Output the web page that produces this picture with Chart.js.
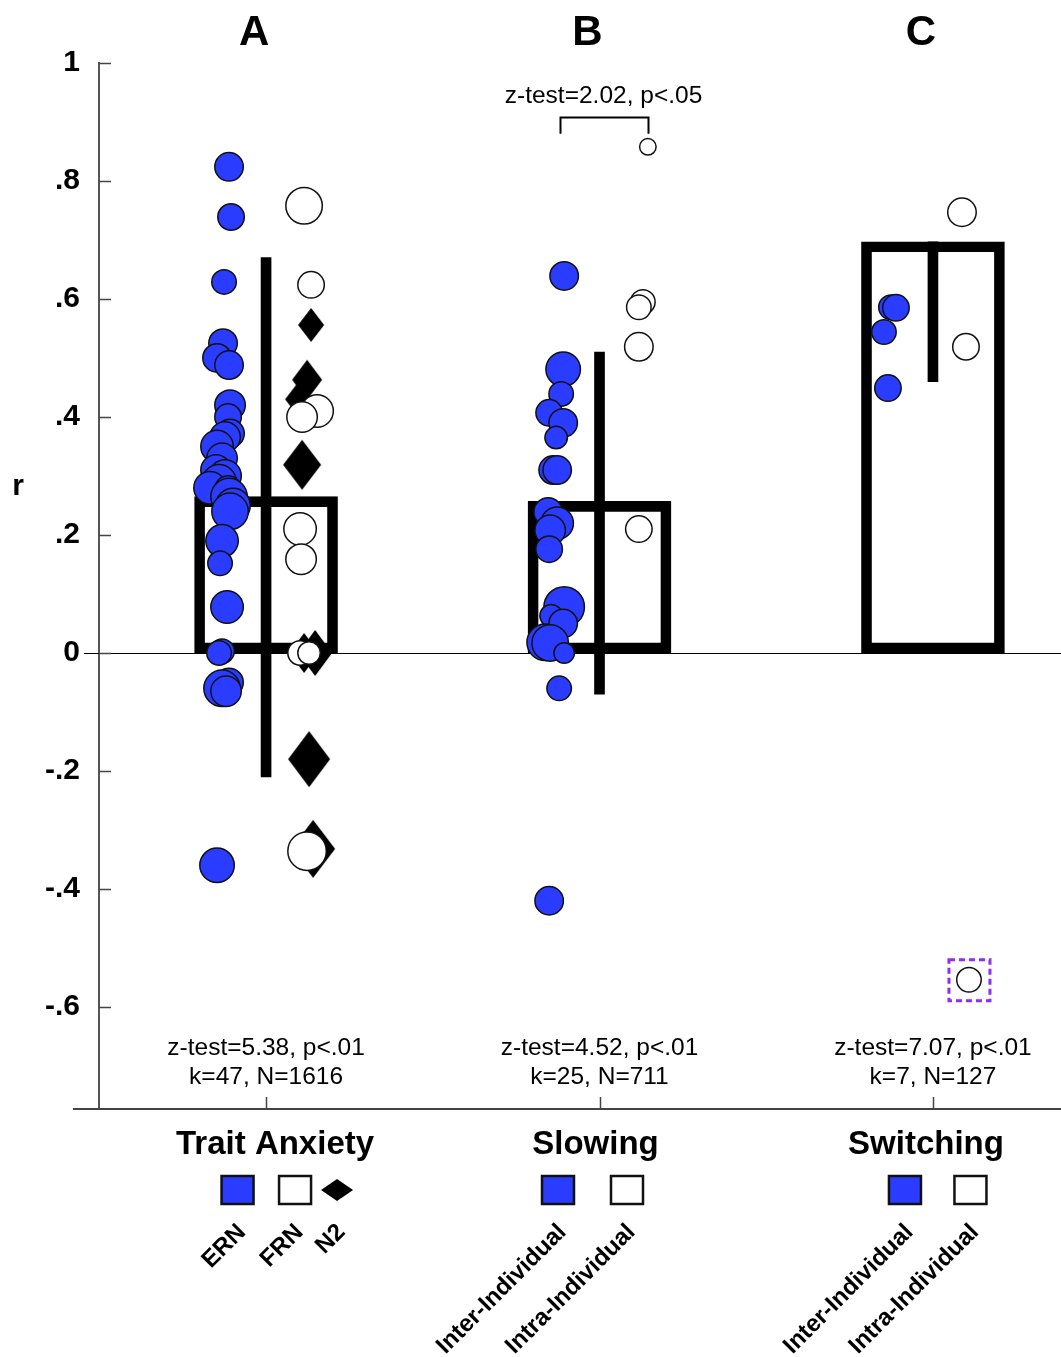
<!DOCTYPE html>
<html>
<head>
<meta charset="utf-8">
<script src="https://cdn.jsdelivr.net/npm/chart.js@4.4.1/dist/chart.umd.min.js"></script>
<style>
  html, body { margin: 0; padding: 0; background: #fff; }
  #wrap { width: 1061px; height: 1357px; }
</style>
</head>
<body>
<div id="wrap"><canvas id="grafica" width="1061" height="1357"></canvas></div>
<script>
// categories (x positions 1..3) and summary values
var categories = [1, 2, 3];
var panelLetters = ['A', 'B', 'C'];
var groupNames = ['Trait Anxiety', 'Slowing', 'Switching'];
var legendNames = [['ERN', 'FRN', 'N2'], ['Inter-Individual', 'Intra-Individual'], ['Inter-Individual', 'Intra-Individual']];
var means = [0.265, 0.257, 0.697];
var errLow = [-0.21, -0.07, 0.46];
var errHigh = [0.67, 0.51, 0.697];
var zTests = ['z-test=5.38, p<.01', 'z-test=4.52, p<.01', 'z-test=7.07, p<.01'];
var kN = ['k=47, N=1616', 'k=25, N=711', 'k=7, N=127'];
var slowingCompare = 'z-test=2.02, p<.05';
var yTicks = [1, 0.8, 0.6, 0.4, 0.2, 0, -0.2, -0.4, -0.6];

// Trait anxiety: ERN
var ernR = [0.824, 0.739, 0.629, 0.525, 0.50, 0.488, 0.42, 0.40, 0.372, 0.366, 0.35, 0.33, 0.31, 0.30, 0.29, 0.28, 0.278, 0.265, 0.25, 0.24, 0.19, 0.152, 0.078, 0.003, 0.0, -0.05, -0.06, -0.065, -0.36];
var ernJit = [-0.111, -0.105, -0.126, -0.129, -0.147, -0.111, -0.108, -0.114, -0.108, -0.123, -0.147, -0.132, -0.150, -0.123, -0.141, -0.168, -0.114, -0.111, -0.099, -0.108, -0.132, -0.138, -0.117, -0.132, -0.141, -0.111, -0.132, -0.120, -0.147];
var ernSize = [15, 14, 13, 15, 15, 15, 16, 14, 15, 16, 17, 16, 16, 17, 18, 17, 14, 19, 18, 19, 17, 13, 17, 13, 13, 15, 19, 16, 18];
// Trait anxiety: FRN
var frnR = [0.758, 0.624, 0.41, 0.40, 0.21, 0.159, 0.0, 0.0, -0.336];
var frnJit = [0.114, 0.135, 0.153, 0.108, 0.102, 0.105, 0.102, 0.129, 0.123];
var frnSize = [19, 14, 17, 16, 17, 16, 13, 12, 20];
// Trait anxiety: N2
var n2R = [0.556, 0.463, 0.43, 0.319, 0.0, 0.0, -0.18, -0.332];
var n2Jit = [0.135, 0.123, 0.096, 0.108, 0.114, 0.147, 0.129, 0.141];
var n2Size = [17, 20, 17, 25, 20, 23, 28, 29];
// Slowing
var slowInterR = [0.639, 0.481, 0.439, 0.407, 0.39, 0.365, 0.31, 0.31, 0.239, 0.22, 0.208, 0.176, 0.078, 0.063, 0.05, 0.018, 0.017, 0.0, -0.06, -0.42];
var slowInterJit = [-0.106, -0.109, -0.115, -0.151, -0.109, -0.130, -0.139, -0.127, -0.154, -0.127, -0.148, -0.151, -0.106, -0.145, -0.109, -0.163, -0.148, -0.106, -0.121, -0.151];
var slowInterSize = [15, 18, 13, 14, 15, 12, 15, 15, 15, 17, 16, 14, 21, 12, 15, 19, 19, 11, 13, 15];
var slowIntraR = [0.858, 0.595, 0.586, 0.519, 0.21];
var slowIntraJit = [0.145, 0.130, 0.118, 0.118, 0.118];
var slowIntraSize = [9, 13, 13, 15, 14];
// Switching
var switchInterR = [0.586, 0.585, 0.544, 0.449];
var switchInterJit = [-0.126, -0.111, -0.147, -0.135];
var switchInterSize = [13, 14, 13, 14];
var switchIntraR = [0.747, 0.519, -0.554];
var switchIntraJit = [0.087, 0.099, 0.108];
var switchIntraSize = [15, 14, 13];

var BLUE = '#2a3cff';
var FONT = "'Liberation Sans', Arial, Helvetica, sans-serif";

function points(cat, vals, jit) {
    return vals.map(function(v, i) { return { x: cat + jit[i], y: v }; });
}

function circleSet(label, cat, vals, jit, sizes, color, order) {
    return {
        type: 'scatter',
        label: label,
        data: points(cat, vals, jit),
        backgroundColor: color,
        borderColor: '#111',
        borderWidth: 1.5,
        pointRadius: sizes.map(function(r) { return r - 0.75; }),
        order: order
    };
}

function diamondCanvas(h) {
    var w = Math.round(h * 0.76);
    var c = document.createElement('canvas');
    c.width = 2 * w + 2;
    c.height = 2 * h + 2;
    var g = c.getContext('2d');
    g.fillStyle = '#000';
    g.beginPath();
    g.moveTo(w + 1, 1);
    g.lineTo(2 * w + 1, h + 1);
    g.lineTo(w + 1, 2 * h + 1);
    g.lineTo(1, h + 1);
    g.closePath();
    g.fill();
    return c;
}
var diamonds = n2Size.map(diamondCanvas);

function yLabel(v) {
    if (v === 0) return '0';
    if (v === 1) return '1';
    return (v < 0 ? '-' : '') + Math.abs(v).toFixed(1).replace(/^0/, '');
}

var extras = {
    id: 'extras',
    beforeDatasetsDraw: function(chart) {
        var ctx = chart.ctx, y = chart.scales.y, area = chart.chartArea;
        var y0 = Math.round(y.getPixelForValue(0)) + 0.5;
        ctx.save();
        ctx.strokeStyle = '#000';
        ctx.lineWidth = 1.2;
        ctx.beginPath();
        ctx.moveTo(84, y0);
        ctx.lineTo(area.right, y0);
        ctx.stroke();
        // tick marks point inward
        ctx.strokeStyle = '#444';
        ctx.lineWidth = 1.5;
        yTicks.forEach(function(v) {
            var py = Math.round(y.getPixelForValue(v)) + 0.5;
            ctx.beginPath();
            ctx.moveTo(area.left, py);
            ctx.lineTo(area.left + 12, py);
            ctx.stroke();
        });
        ctx.restore();
    },
    afterDraw: function(chart) {
        var ctx = chart.ctx, x = chart.scales.x, y = chart.scales.y, area = chart.chartArea;
        ctx.save();

        // bottom axis
        ctx.strokeStyle = '#444';
        ctx.lineWidth = 2;
        ctx.beginPath();
        ctx.moveTo(73, area.bottom);
        ctx.lineTo(area.right, area.bottom);
        ctx.stroke();
        ctx.lineWidth = 1.5;
        categories.forEach(function(c) {
            var px = Math.round(x.getPixelForValue(c)) + 0.5;
            ctx.beginPath();
            ctx.moveTo(px, area.bottom - 12);
            ctx.lineTo(px, area.bottom);
            ctx.stroke();
        });

        ctx.fillStyle = '#000';
        ctx.textAlign = 'center';
        ctx.textBaseline = 'alphabetic';

        // panel letters
        ctx.font = 'bold 42px ' + FONT;
        categories.forEach(function(c, i) {
            ctx.fillText(panelLetters[i], x.getPixelForValue(c) - 12, 45);
        });

        // axis title
        ctx.font = 'bold 30px ' + FONT;
        ctx.fillText('r', 18, 495);

        // stats under each panel
        ctx.font = '24.5px ' + FONT;
        categories.forEach(function(c, i) {
            var px = x.getPixelForValue(c);
            ctx.fillText(zTests[i], px, area.bottom - 54);
            ctx.fillText(kN[i], px, area.bottom - 25);
        });

        // bracket over slowing
        var bx = x.getPixelForValue(categories[1]);
        var bTop = Math.round(y.getPixelForValue(0.908)) + 0.5;
        var bTip = y.getPixelForValue(0.88);
        ctx.strokeStyle = '#000';
        ctx.lineWidth = 2;
        ctx.beginPath();
        ctx.moveTo(bx - 39, bTip);
        ctx.lineTo(bx - 39, bTop);
        ctx.lineTo(bx + 49, bTop);
        ctx.lineTo(bx + 49, bTip);
        ctx.stroke();
        ctx.fillText(slowingCompare, bx + 4, bTop - 15);

        // dashed box around the outlying switching point
        var meta = chart.getDatasetMeta(7);
        var pt = meta.data[2];
        ctx.strokeStyle = '#8f2cf5';
        ctx.lineWidth = 3;
        ctx.setLineDash([6, 4]);
        ctx.strokeRect(pt.x - 20, pt.y - 20, 41, 41);
        ctx.setLineDash([]);

        // legend block
        var titleDx = [9, -4, -7];
        var itemDx = [[-28.5, 29, 71], [-41.5, 27.5], [-28, 37.5]];
        var itemKind = [['blue', 'white', 'diamond'], ['blue', 'white'], ['blue', 'white']];
        categories.forEach(function(c, i) {
            var px = x.getPixelForValue(c);
            ctx.fillStyle = '#000';
            ctx.font = 'bold 33px ' + FONT;
            ctx.textAlign = 'center';
            ctx.textBaseline = 'alphabetic';
            ctx.fillText(groupNames[i], px + titleDx[i], area.bottom + 45);

            itemDx[i].forEach(function(dx, j) {
                var cx = px + dx;
                var cy = area.bottom + 81;
                var kind = itemKind[i][j];
                if (kind === 'diamond') {
                    ctx.fillStyle = '#000';
                    ctx.beginPath();
                    ctx.moveTo(cx - 16, cy);
                    ctx.lineTo(cx, cy - 11);
                    ctx.lineTo(cx + 16, cy);
                    ctx.lineTo(cx, cy + 11);
                    ctx.closePath();
                    ctx.fill();
                } else {
                    ctx.fillStyle = kind === 'blue' ? BLUE : '#fff';
                    ctx.fillRect(cx - 16, cy - 14, 32, 28);
                    ctx.strokeStyle = '#111';
                    ctx.lineWidth = 2.5;
                    ctx.strokeRect(cx - 16, cy - 14, 32, 28);
                }
                ctx.save();
                ctx.fillStyle = '#000';
                ctx.font = 'bold 24px ' + FONT;
                ctx.translate(cx - 4, area.bottom + 111);
                ctx.rotate(-Math.PI / 4);
                ctx.textAlign = 'right';
                ctx.textBaseline = 'top';
                ctx.fillText(legendNames[i][j], 0, 0);
                ctx.restore();
            });
        });

        ctx.restore();
    }
};

var datasets = [
    {
        type: 'bar',
        label: 'mean',
        data: categories.map(function(c, i) { return { x: c, y: means[i] }; }),
        backgroundColor: 'rgba(0,0,0,0)',
        borderColor: '#000',
        borderWidth: 10,
        borderSkipped: false,
        barThickness: 143,
        grouped: false,
        order: 10
    },
    {
        type: 'bar',
        label: 'range',
        data: categories.map(function(c, i) { return { x: c, y: [errLow[i], errHigh[i]] }; }),
        backgroundColor: '#000',
        borderWidth: 0,
        barThickness: 10,
        grouped: false,
        order: 9
    },
    circleSet('ERN', categories[0], ernR, ernJit, ernSize, BLUE, 5),
    {
        type: 'scatter',
        label: 'N2',
        data: points(categories[0], n2R, n2Jit),
        pointStyle: function(ctx) { return diamonds[ctx.dataIndex]; },
        pointRadius: n2Size,
        order: 4
    },
    circleSet('FRN', categories[0], frnR, frnJit, frnSize, '#fff', 3),
    circleSet('Slowing inter', categories[1], slowInterR, slowInterJit, slowInterSize, BLUE, 5),
    circleSet('Slowing intra', categories[1], slowIntraR, slowIntraJit, slowIntraSize, '#fff', 3),
    circleSet('Switching intra', categories[2], switchIntraR, switchIntraJit, switchIntraSize, '#fff', 3),
    circleSet('Switching inter', categories[2], switchInterR, switchInterJit, switchInterSize, BLUE, 5)
];

new Chart(document.getElementById('grafica').getContext('2d'), {
    type: 'bar',
    data: { datasets: datasets },
    plugins: [extras],
    options: {
        responsive: false,
        animation: false,
        events: [],
        layout: { autoPadding: false, padding: { top: 63, bottom: 248, left: 0, right: 0 } },
        plugins: { legend: { display: false }, tooltip: { enabled: false } },
        scales: {
            x: { type: 'linear', min: 0.499, max: 3.384, offset: false, display: false },
            y: {
                min: -0.773,
                max: 1,
                afterFit: function(s) { s.width = 99; },
                afterBuildTicks: function(s) { s.ticks = yTicks.map(function(v) { return { value: v }; }); },
                grid: { display: false, drawTicks: false },
                border: { display: true, color: '#555', width: 2 },
                ticks: {
                    padding: 19,
                    color: '#000',
                    font: { family: FONT, size: 30, weight: 'bold' },
                    callback: function(v) { return yLabel(v); }
                }
            }
        }
    }
});
</script>
</body>
</html>
